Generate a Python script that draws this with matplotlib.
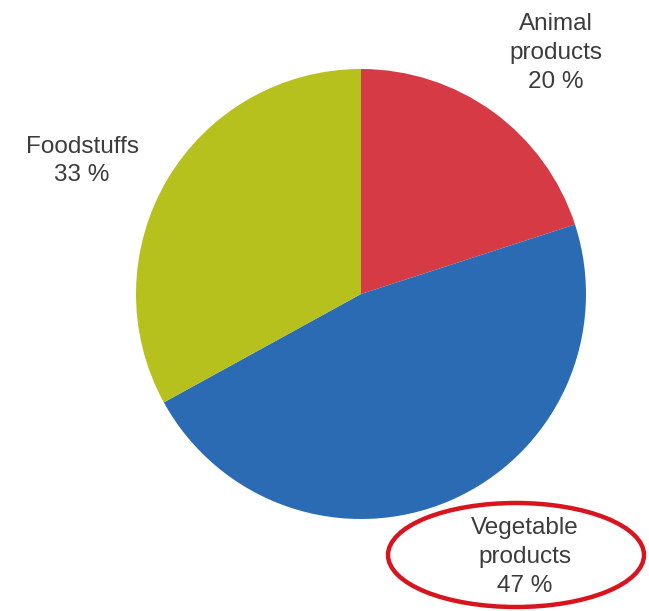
import matplotlib.pyplot as plt
from matplotlib.patches import Ellipse

plt.rcParams['font.family'] = ['Liberation Sans', 'DejaVu Sans']

# datos del grafico
categorias = ["Animal\nproducts", "Vegetable\nproducts", "Foodstuffs"]
porcentajes = [20, 47, 33]
colores = ["#d63a44", "#2a6bb4", "#b6c11e"]

fig = plt.figure(figsize=(6.49, 6.11), dpi=100)
ax = fig.add_axes([0, 0, 1, 1])

ax.pie(porcentajes, colors=colores, startangle=90, counterclock=False,
       center=(361, 317), radius=225, frame=True,
       wedgeprops={"linewidth": 0})
ax.set_xlim(0, 649)
ax.set_ylim(0, 611)
ax.set_aspect("equal")
ax.axis("off")

# etiquetas
posiciones = [(556, 558), (525, 54), (82, 450)]
for nombre, valor, (x, y) in zip(categorias, porcentajes, posiciones):
    ax.text(x, y, nombre + "\n" + str(valor) + " %", ha="center", va="center",
            fontsize=17.5, color="#3c3c3c", linespacing=1.4)

# elipse roja
ax.add_patch(Ellipse((516, 56), 256, 104, fill=False, edgecolor="#d8141e", linewidth=3.2))

fig.savefig("out.png", dpi=100)
